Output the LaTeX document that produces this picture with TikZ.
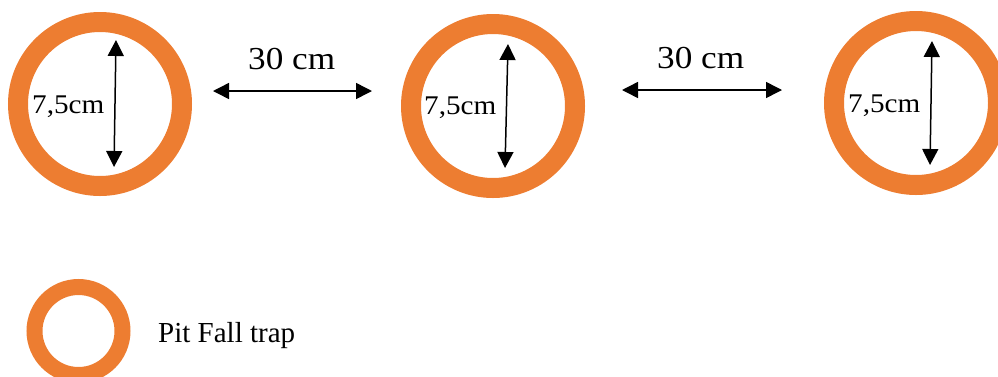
\documentclass[tikz,border=0pt]{standalone}
\usepackage{fontspec}
\usepackage{graphicx}
\setmainfont{Liberation Serif}
\usetikzlibrary{arrows.meta}
\definecolor{trapOrange}{HTML}{ED7D31}
\tikzset{
  ring/.style={circle, draw=trapOrange, line width=20pt, minimum size=164pt, inner sep=0pt},
  smallring/.style={circle, draw=trapOrange, line width=16pt, minimum size=88pt, inner sep=0pt},
  dim/.style={line width=1.5pt, {Triangle[length=16pt,width=16pt]}-{Triangle[length=16pt,width=16pt]}},
  diam/.style={anchor=base west, inner sep=0pt, font=\fontsize{27}{30}\selectfont},
  gap/.style={anchor=base west, inner sep=0pt, font=\fontsize{32}{36}\selectfont},
  legendtxt/.style={anchor=base west, inner sep=0pt, font=\fontsize{29}{32}\selectfont}
}
\begin{document}
\begin{tikzpicture}[x=1pt, y=-1pt]
  \useasboundingbox (0,0) rectangle (998,376);

  % three traps
  \node[ring] (c1) at (100,104) {};
  \node[ring] (c2) at (493,106) {};
  \node[ring] (c3) at (916,103) {};

  % diameter arrows
  \coordinate (d1t) at (116,40);  \coordinate (d1b) at (114,167);
  \coordinate (d2t) at (508,44);  \coordinate (d2b) at (505,168);
  \coordinate (d3t) at (932,41);  \coordinate (d3b) at (930,165);
  \draw[dim] (d1b) -- (d1t);
  \draw[dim] (d2b) -- (d2t);
  \draw[dim] (d3b) -- (d3t);

  \node[diam] (l1) at (32,113) {\scalebox{1.08}[1]{7,5cm}};
  \node[diam] (l2) at (424,114) {\scalebox{1.08}[1]{7,5cm}};
  \node[diam] (l3) at (848,112) {\scalebox{1.08}[1]{7,5cm}};

  % spacing between traps
  \coordinate (s1a) at (213,91);  \coordinate (s1b) at (372,91);
  \coordinate (s2a) at (622,90);  \coordinate (s2b) at (782,90);
  \draw[dim] (s1a) -- (s1b);
  \draw[dim] (s2a) -- (s2b);
  \node[gap] (g1) at (248,69) {\scalebox{1.1}[1]{30 cm}};
  \node[gap] (g2) at (657,68) {\scalebox{1.1}[1]{30 cm}};

  % legend
  \node[smallring] (lg) at (78.5,331) {};
  \node[legendtxt] (lgt) at (158,342) {Pit Fall trap};
\end{tikzpicture}
\end{document}
